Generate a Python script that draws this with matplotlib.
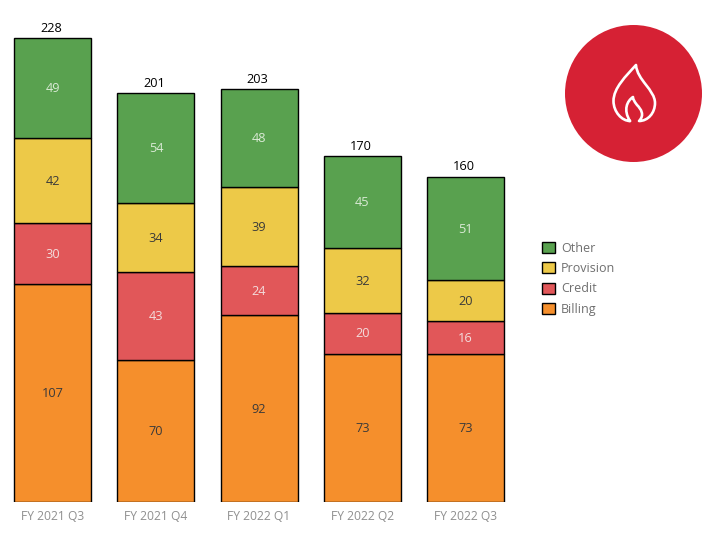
import matplotlib
matplotlib.use("Agg")
import matplotlib.pyplot as plt
import numpy as np
from matplotlib.patches import Circle, Patch, PathPatch
from matplotlib.path import Path

plt.rcParams['font.family'] = ['Open Sans', 'DejaVu Sans']

quarters = ["FY 2021 Q3", "FY 2021 Q4", "FY 2022 Q1", "FY 2022 Q2", "FY 2022 Q3"]
billing = [107, 70, 92, 73, 73]
credit = [30, 43, 24, 20, 16]
provision = [42, 34, 39, 32, 20]
other = [49, 54, 48, 45, 51]
totals = [228, 201, 203, 170, 160]

series_names = ["Billing", "Credit", "Provision", "Other"]
series_values = [billing, credit, provision, other]
series_colors = ["#F58F2C", "#E15759", "#EDC948", "#59A14F"]
label_colors = ["#3a3a3a", "#f3dcdc", "#3a3a3a", "#d9ead5"]

W, H = 725, 545
fig = plt.figure(figsize=(W / 100, H / 100), dpi=100)

# axes box in pixels, so the bars land where they do in the picture
left, right, top, bottom = 1.2, 517.0, 18, 502
ax = fig.add_axes([left / W, 1 - bottom / H, (right - left) / W, (bottom - top) / H])

x = np.arange(len(quarters))
base = np.zeros(len(quarters))
for name, vals, col, lab_col in zip(series_names, series_values, series_colors, label_colors):
    vals = np.array(vals)
    ax.bar(x, vals, width=0.747, bottom=base, color=col, edgecolor="black", linewidth=1.0, label=name)
    for xi, b, v in zip(x, base, vals):
        ax.annotate(str(v), (xi, b + v / 2), xytext=(0, -0.5), textcoords="offset points",
                    ha="center", va="center", fontsize=9.2, color=lab_col)
    base = base + vals

for xi, t in zip(x, totals):
    ax.annotate(str(t), (xi, t), xytext=(-1, 2.5), textcoords="offset points",
                ha="center", va="bottom", fontsize=9.2, color="black")

ax.set_xlim(-0.5, 4.5)
ax.set_ylim(0, 484 / 2.033)
ax.set_xticks(x)
ax.set_xticklabels(quarters, fontsize=8.7, color="#8f8f8f")
ax.tick_params(axis="x", length=0, pad=6)
ax.set_yticks([])
for s in ax.spines.values():
    s.set_visible(False)

# legend, top row first
handles = [Patch(facecolor=c, edgecolor="black", linewidth=1.0, label=n)
           for n, c in zip(series_names[::-1], series_colors[::-1])]
leg = fig.legend(handles=handles, loc="upper left", bbox_to_anchor=(537 / W, 1 - 236.5 / H),
                 frameon=False, fontsize=9.0, handlelength=1.0, handleheight=1.0,
                 handletextpad=0.5, labelspacing=0.6, borderpad=0.4, borderaxespad=0)
for t in leg.get_texts():
    t.set_color("#6f6f6f")

# flame badge, drawn in pixel coords
badge = fig.add_axes([0, 0, 1, 1], facecolor="none")
badge.set_xlim(0, W)
badge.set_ylim(H, 0)
badge.axis("off")
badge.add_patch(Circle((633.5, 93.5), 68.5, facecolor="#D62134", edgecolor="none"))
flame = Path(
    [(630, 121), (622, 121), (613.5, 112), (613.5, 101),
     (613.5, 88), (626, 76), (636, 65),
     (637, 80), (655, 90), (655, 103),
     (655, 113), (648, 121), (639, 121),
     (645, 115), (641, 109), (637, 105),
     (634, 101), (633, 99), (633, 97),
     (627, 101), (623, 110), (630, 121)],
    [Path.MOVETO, Path.CURVE4, Path.CURVE4, Path.CURVE4,
     Path.CURVE4, Path.CURVE4, Path.CURVE4,
     Path.CURVE4, Path.CURVE4, Path.CURVE4,
     Path.CURVE4, Path.CURVE4, Path.CURVE4,
     Path.CURVE4, Path.CURVE4, Path.CURVE4,
     Path.CURVE4, Path.CURVE4, Path.CURVE4,
     Path.CURVE4, Path.CURVE4, Path.CURVE4])
badge.add_patch(PathPatch(flame, facecolor="none", edgecolor="white", linewidth=1.9, capstyle="round", joinstyle="round"))

fig.savefig("out.png", dpi=100)
